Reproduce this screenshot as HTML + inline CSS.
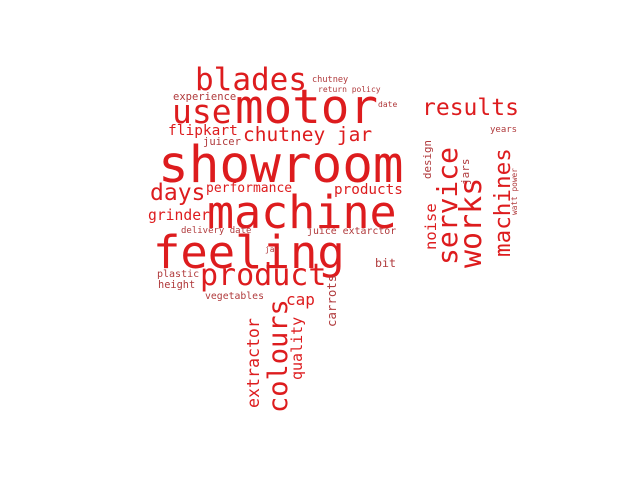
<!DOCTYPE html>
<html><head><meta charset="utf-8"><style>
html,body{margin:0;padding:0;background:#fff;width:640px;height:480px;overflow:hidden}
svg text{font-family:"DejaVu Sans Mono","Liberation Mono",monospace}
</style></head><body>
<svg width="640" height="480">
<g id="words"></g>
</svg>
<script>
const words=["showroom","motor","machine","feeling","blades","use","results","chutney jar","flipkart","juicer","experience","chutney","return policy","date","days","performance","products","grinder","delivery date","juice extarctor","jar","bit","plastic","height","product","vegetables","cap","years","colours","extractor","quality","carrots","noise","design","service","works","jars","machines","watt power"];
const sizes=[51,47.5,45,45.5,31,33,23,19.5,14.5,10.5,10.5,8.6,8,8,23,13,14.3,14.7,9,9.9,7.8,11.6,10,10.3,30,9.8,16,9,27,16.6,15,12.4,15.5,10.8,28,30,11,22.6,7.8];
const xs=[158,235,207,153,195,172,422,243,168,203,173,312,318,378,150,206,334,148,181,307,265,375,157,158,200,205,286,490,287,259,302,336,436,431,457,481,469,510,517];
const ys=[182,123,228,268,90,123,115,141,135,145,100,82,92,107,200,192,194,220,233,234,252,267,277,288,285,299,305,132,413,408,380,327,250,179,265,268,185,257,215];
const rot=[0,0,0,0,0,0,0,0,0,0,0,0,0,0,0,0,0,0,0,0,0,0,0,0,0,0,0,0,1,1,1,1,1,1,1,1,1,1,1];
const g=document.getElementById('words');
words.forEach((w,i)=>{
  const t=document.createElementNS('http://www.w3.org/2000/svg','text');
  
  
  t.setAttribute('font-size',sizes[i]);
  t.setAttribute('fill',sizes[i]>=13?'#dd1c1e':'#b03a3c');
  if(rot[i]) t.setAttribute('transform','translate('+xs[i]+','+ys[i]+') rotate(-90)');
  else {t.setAttribute('x',xs[i]);t.setAttribute('y',ys[i]);}
  t.textContent=w;
  g.appendChild(t);
});
</script>
</body></html>
